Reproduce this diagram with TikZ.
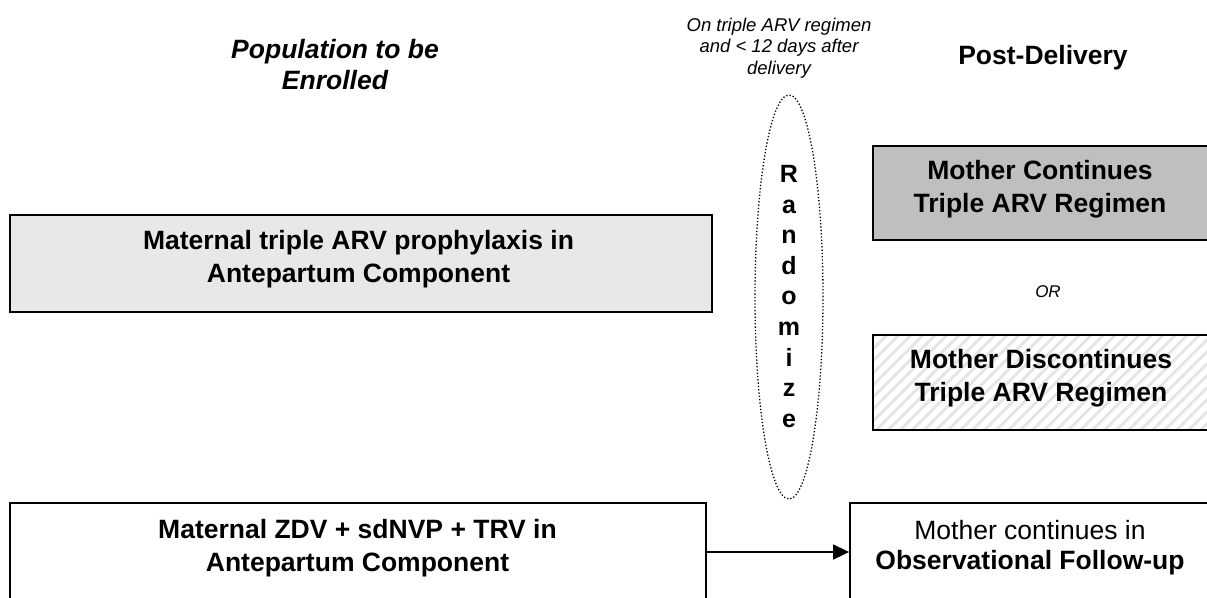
\documentclass[tikz,border=0pt]{standalone}
\usepackage{fontspec}
\setmainfont{Liberation Sans}
\usetikzlibrary{positioning,shapes.geometric,arrows.meta,patterns.meta}

\tikzset{
  box/.style={draw, rectangle, line width=1.8pt, inner sep=0pt},
  boxtext/.style={font=\fontsize{26.5}{33}\selectfont\bfseries, align=center},
  headtext/.style={font=\fontsize{26.5}{31}\selectfont\bfseries, align=center},
  notetext/.style={font=\fontsize{18.5}{21.5}\selectfont\itshape, align=center},
}

\begin{document}
\begin{tikzpicture}[x=1pt,y=-1pt,>=latex]
\useasboundingbox (0,0) rectangle (1207,597);

% Draw the headings
\node[headtext] (enrol) at (335,64.5) {\itshape Population to be\\\itshape Enrolled};
\node[notetext] (cond) at (779,48) {On triple ARV regimen\\and < 12 days after\\delivery};
\node[headtext] (post) at (1043,58) {Post-Delivery};

% Draw the randomize oval
\node[ellipse, draw, dotted, line width=1.3pt, minimum width=68pt, minimum height=404pt] (rand) at (789,297) {};
\node[font=\fontsize{25}{30.6}\selectfont\bfseries, align=center] (randtxt) at (789,296.5) {R\\a\\n\\d\\o\\m\\i\\z\\e};

%% Draw the antepartum boxes
\node[box, fill=gray!18, minimum width=702pt, minimum height=97pt] (prophy) at (361,263.5) {};
\node[boxtext] (prophytxt) at (358.5,259) {Maternal triple ARV prophylaxis in\\Antepartum Component};
\node[box, minimum width=696pt, minimum height=98pt] (zdv) at (358,552) {};
\node[boxtext] (zdvtxt) at (357.5,548) {Maternal ZDV + sdNVP + TRV in\\Antepartum Component};

%% Draw the post-delivery boxes
\node[box, fill=gray!50, minimum width=339pt, minimum height=94pt] (cont) at (1042.5,193) {};
\node[boxtext] (conttxt) at (1040,189.5) {Mother Continues\\Triple ARV Regimen};
\node[font=\fontsize{17}{21}\selectfont\itshape] (or) at (1048,292) {OR};
\node[box, pattern={Lines[angle=45, distance=8.5pt, line width=3pt]}, pattern color=gray!20, minimum width=339pt, minimum height=95pt] (disc) at (1042.5,382.5) {};
\node[boxtext] (disctxt) at (1041,378) {Mother Discontinues\\Triple ARV Regimen};
\node[box, minimum width=362pt, minimum height=98pt] (obs) at (1031,552) {};
\node[boxtext, font=\fontsize{26.5}{30}\selectfont\bfseries] (obstxt) at (1030,548) {{\mdseries Mother continues in}\\Observational Follow-up};

%% Connect the boxes
\draw[-{Triangle[length=16pt,width=15pt]}, line width=1.6pt] (zdv) -- (obs);

\end{tikzpicture}
\end{document}
